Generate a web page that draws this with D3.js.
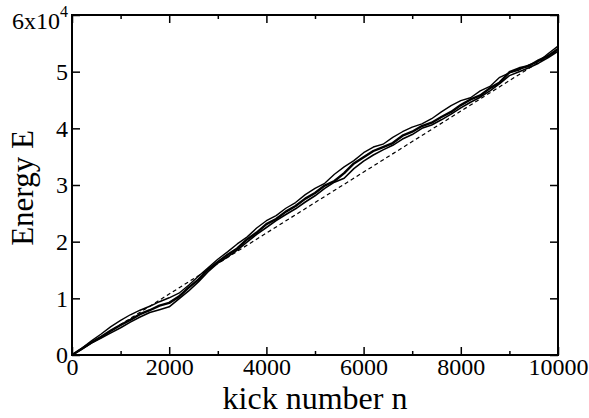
<!DOCTYPE html>
<html>
<head>
<meta charset="utf-8">
<script src="https://cdn.jsdelivr.net/npm/d3@7"></script>
<style>
body { margin: 0; background: #fff; }
</style>
</head>
<body>
<div id="chart"></div>
<script>
var serif = "'Liberation Serif', 'Times New Roman', serif";

// kick numbers, sampled every 200 kicks
var kicks = [0,200,400,600,800,1000,1200,1400,1600,1800,2000,2200,2400,2600,2800,3000,3200,3400,3600,3800,4000,4200,4400,4600,4800,5000,5200,5400,5600,5800,6000,6200,6400,6600,6800,7000,7200,7400,7600,7800,8000,8200,8400,8600,8800,9000,9200,9400,9600,9800,10000];

// energy of the three runs
var runA = [0,1200,2500,3700,5000,6100,7100,7900,8600,9400,10100,10900,12300,13900,15400,16900,18200,19600,20800,22400,23700,24600,25900,26900,28300,29400,30300,31900,33200,34300,35700,36700,37200,38400,39400,40200,40800,41700,42900,44000,44900,45400,46600,47400,49000,49800,50300,51200,51800,53200,54500];
var runB = [0,1100,2200,3200,4300,5300,6200,7200,7900,8700,9200,10300,11900,13300,15100,16400,17700,18800,20400,21600,23100,24000,25300,26300,27600,28600,29900,30700,32100,33800,34900,36000,36700,37400,38700,39400,40400,41000,42000,42900,44100,45100,45800,47100,48100,49900,50600,51000,52000,52800,54000];
var runC = [0,1000,2100,3000,3900,4800,5800,6700,7500,8000,8500,9900,11300,12900,14700,16200,17300,18500,19900,21300,22500,23700,24800,25800,27000,28100,29400,30500,31200,32900,34200,35300,36200,37000,38100,38900,40000,40600,41500,42500,43600,44600,45500,46600,47900,49300,50000,50700,51500,52500,53600];

// straight reference line
var lineN = [0, 10000];
var lineE = [0, 53800];

var xTicks = [0,2000,4000,6000,8000,10000];
var xMinor = [1000,3000,5000,7000,9000];
var yTicks = [0,10000,20000,30000,40000,50000,60000];

var margin = {top: 15, right: 31, bottom: 63, left: 72},
	width = 589 - margin.left - margin.right,
	height = 418 - margin.top - margin.bottom;

var svg = d3.select("#chart").append("svg")
	.attr("width", 589)
	.attr("height", 418)
	.append("g")
	.attr("transform", "translate(" + margin.left + "," + margin.top + ")");

var x = d3.scaleLinear().domain([0, 10000]).range([0, width]);
var y = d3.scaleLinear().domain([0, 60000]).range([height, 0]);

// axes, ticks pointing inward
svg.append("g")
	.attr("transform", "translate(0," + height + ")")
	.call(d3.axisBottom(x).tickValues(xTicks).tickSize(-8).tickSizeOuter(0).tickPadding(3)
		.tickFormat(d3.format("d")));

svg.append("g")
	.attr("transform", "translate(0," + height + ")")
	.call(d3.axisBottom(x).tickValues(xMinor).tickSize(-4).tickSizeOuter(0).tickFormat(""));

svg.append("g")
	.call(d3.axisTop(x).tickValues(xTicks).tickSize(-8).tickSizeOuter(0).tickFormat(""));
svg.append("g")
	.call(d3.axisTop(x).tickValues(xMinor).tickSize(-4).tickSizeOuter(0).tickFormat(""));

svg.append("g")
	.call(d3.axisLeft(y).tickValues(yTicks).tickSize(-8).tickSizeOuter(0).tickPadding(4)
		.tickFormat(d => d === 60000 ? "" : d / 10000));

svg.append("g")
	.attr("transform", "translate(" + width + ",0)")
	.call(d3.axisRight(y).tickValues(yTicks).tickSize(-8).tickSizeOuter(0).tickFormat(""));

svg.selectAll(".tick text")
	.style("font-family", serif)
	.style("font-size", "24px")
	.attr("fill", "#000");
svg.selectAll(".tick line").attr("stroke", "#000").attr("stroke-width", 1.5);
svg.selectAll(".domain").remove();

// top label 6x10^4
svg.append("text")
	.attr("x", -12)
	.attr("y", y(60000) + 14)
	.attr("text-anchor", "end")
	.style("font-family", serif)
	.style("font-size", "24px")
	.text("6x10");
svg.append("text")
	.attr("x", -12)
	.attr("y", y(60000) + 2)
	.style("font-family", serif)
	.style("font-size", "16px")
	.text("4");

// frame
svg.append("rect")
	.attr("width", width)
	.attr("height", height)
	.attr("fill", "none")
	.attr("stroke", "#000")
	.attr("stroke-width", 2);

// curves
var line = d3.line().x(d => x(d[0])).y(d => y(d[1]));

svg.append("path")
	.datum(d3.zip(lineN, lineE))
	.attr("fill", "none")
	.attr("stroke", "#000")
	.attr("stroke-width", 1.2)
	.attr("stroke-dasharray", "4,3")
	.attr("d", line);

[[runA, 1.4], [runC, 1.6], [runB, 2.4]].forEach(function (r) {
	svg.append("path")
		.datum(d3.zip(kicks, r[0]))
		.attr("fill", "none")
		.attr("stroke", "#000")
		.attr("stroke-width", r[1])
		.attr("stroke-linejoin", "round")
		.attr("d", line);
});

// titles
svg.append("text")
	.attr("x", width / 2)
	.attr("y", height + 54)
	.attr("text-anchor", "middle")
	.style("font-family", serif)
	.style("font-size", "32px")
	.text("kick number n");

svg.append("text")
	.attr("transform", "translate(" + (33 - margin.left) + "," + (188 - margin.top) + ") rotate(-90)")
	.attr("text-anchor", "middle")
	.style("font-family", serif)
	.style("font-size", "31px")
	.text("Energy E");
</script>
</body>
</html>
